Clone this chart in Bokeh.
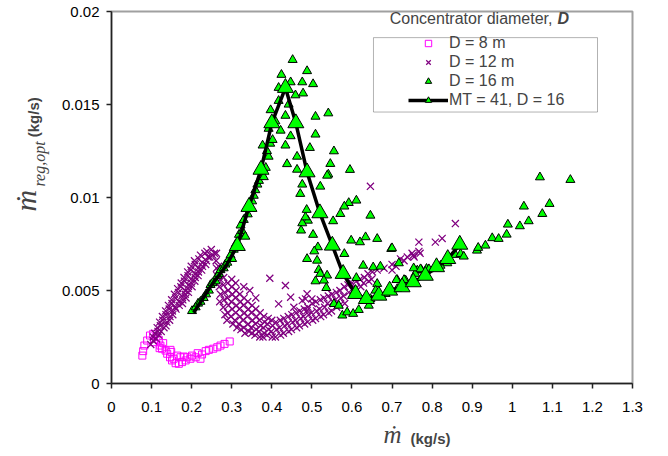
from math import pi
from bokeh.plotting import figure
from bokeh.models import Range1d, Label, BoxAnnotation, Legend, LegendItem, FixedTicker
from bokeh.embed import file_html
from bokeh.resources import INLINE

# ---------------- data ----------------
x_ticks = [0, 0.1, 0.2, 0.3, 0.4, 0.5, 0.6, 0.7, 0.8, 0.9, 1, 1.1, 1.2, 1.3]
x_tick_labels = ["0", "0.1", "0.2", "0.3", "0.4", "0.5", "0.6", "0.7", "0.8", "0.9", "1", "1.1", "1.2", "1.3"]
y_ticks = [0, 0.005, 0.01, 0.015, 0.02]
y_tick_labels = ["0", "0.005", "0.01", "0.015", "0.02"]

# D = 8 m
d8_x = [0.077, 0.079, 0.082, 0.089, 0.096, 0.104, 0.112, 0.106, 0.118, 0.122, 0.126, 0.129, 0.12,
        0.135, 0.139, 0.146, 0.147, 0.149, 0.151, 0.155, 0.16, 0.164, 0.168, 0.172, 0.176, 0.18,
        0.185, 0.189, 0.197, 0.201, 0.21, 0.215, 0.222, 0.226, 0.235, 0.243, 0.254, 0.264, 0.272,
        0.282, 0.295]
d8_y = [0.0015, 0.00174, 0.00204, 0.00231, 0.00258, 0.00267, 0.00253, 0.00222, 0.00235, 0.00204,
        0.00187, 0.00217, 0.0019, 0.00177, 0.0016, 0.00141, 0.00181, 0.0017, 0.00124, 0.00133,
        0.00109, 0.0015, 0.00106, 0.00141, 0.00115, 0.00145, 0.00124, 0.00141, 0.00133, 0.0015,
        0.00141, 0.00163, 0.00133, 0.00156, 0.00174, 0.00181, 0.00187, 0.00195, 0.00204, 0.00213,
        0.00226]

# D = 12 m : rising branch, falling branch, lower branch
d12_x = [0.098, 0.104, 0.104, 0.112, 0.118, 0.108, 0.116, 0.124, 0.114, 0.122, 0.131, 0.136,
         0.120, 0.128, 0.138, 0.145, 0.127, 0.136, 0.146, 0.153, 0.135, 0.144, 0.152, 0.161,
         0.142, 0.151, 0.159, 0.169, 0.177, 0.150, 0.160, 0.168, 0.178, 0.186, 0.157, 0.167,
         0.175, 0.184, 0.192, 0.165, 0.173, 0.184, 0.191, 0.201, 0.174, 0.182, 0.192, 0.199,
         0.208, 0.181, 0.191, 0.198, 0.209, 0.216, 0.190, 0.198, 0.209, 0.217, 0.225, 0.199,
         0.209, 0.216, 0.227, 0.235, 0.267, 0.207, 0.218, 0.226, 0.237, 0.245, 0.261, 0.222,
         0.233, 0.241, 0.253, 0.262, 0.238, 0.249, 0.257,
         0.262, 0.263, 0.261, 0.270, 0.271, 0.269, 0.272, 0.270, 0.280, 0.279, 0.282, 0.281,
         0.279, 0.283, 0.290, 0.291, 0.289, 0.292, 0.290, 0.288, 0.300, 0.302, 0.299, 0.301,
         0.298, 0.303, 0.311, 0.309, 0.312, 0.310, 0.308, 0.313, 0.320, 0.322, 0.319, 0.321,
         0.318, 0.323, 0.331, 0.329, 0.332, 0.328, 0.330, 0.333, 0.340, 0.342, 0.339, 0.341,
         0.343, 0.351, 0.349, 0.352, 0.348, 0.350, 0.360, 0.362, 0.359, 0.361, 0.358, 0.371,
         0.369, 0.372, 0.368, 0.370, 0.380, 0.382, 0.379, 0.381, 0.378, 0.391, 0.389, 0.392,
         0.388, 0.400, 0.402, 0.399, 0.401,
         0.395, 0.434, 0.417, 0.447, 0.488, 0.484, 0.455, 0.488, 0.500, 0.476, 0.360, 0.345,
         0.330, 0.310, 0.300,
         0.410, 0.412, 0.409, 0.421, 0.419, 0.422, 0.430, 0.432, 0.429, 0.441, 0.439, 0.442,
         0.450, 0.452, 0.449, 0.461, 0.459, 0.462, 0.470, 0.472, 0.469, 0.481, 0.479, 0.482,
         0.490, 0.492, 0.489, 0.501, 0.499, 0.502, 0.510, 0.512, 0.509, 0.521, 0.519, 0.522,
         0.530, 0.532, 0.529, 0.541, 0.539, 0.542, 0.550, 0.552, 0.549, 0.561, 0.559, 0.562,
         0.570, 0.572, 0.569, 0.581, 0.579, 0.582, 0.590, 0.592, 0.600, 0.602, 0.611, 0.609,
         0.620, 0.622, 0.631, 0.629, 0.640, 0.642, 0.651, 0.649,
         0.663, 0.680, 0.700, 0.700, 0.710, 0.721, 0.730, 0.738, 0.753, 0.755, 0.750, 0.767,
         0.770, 0.767, 0.808, 0.825, 0.858, 0.646]
d12_y = [0.0021, 0.0023, 0.0025, 0.0024, 0.0026, 0.0027, 0.0028, 0.0028, 0.0030, 0.0031, 0.0030,
         0.0031, 0.0033, 0.0034, 0.0033, 0.0034, 0.0036, 0.0037, 0.0036, 0.0037, 0.0039, 0.0040,
         0.0039, 0.0040, 0.0042, 0.0043, 0.0041, 0.0042, 0.0043, 0.0045, 0.0046, 0.0044, 0.0045,
         0.0046, 0.0048, 0.0049, 0.0047, 0.0048, 0.0049, 0.0051, 0.0052, 0.0050, 0.0051, 0.0052,
         0.0054, 0.0055, 0.0053, 0.0054, 0.0055, 0.0057, 0.0058, 0.0056, 0.0057, 0.0058, 0.0060,
         0.0061, 0.0059, 0.0060, 0.0061, 0.0063, 0.0064, 0.0062, 0.0063, 0.0064, 0.0063, 0.0066,
         0.0067, 0.0065, 0.0066, 0.0068, 0.0066, 0.0069, 0.0070, 0.0068, 0.0069, 0.0070, 0.0071,
         0.0072, 0.0070,
         0.0062, 0.0058, 0.0054, 0.0060, 0.0056, 0.0052, 0.0048, 0.0044, 0.0057, 0.0053, 0.0049,
         0.0045, 0.0041, 0.0037, 0.0054, 0.0050, 0.0046, 0.0042, 0.0038, 0.0034, 0.0052, 0.0048,
         0.0044, 0.0040, 0.0036, 0.0032, 0.0050, 0.0046, 0.0042, 0.0038, 0.0034, 0.0030, 0.0048,
         0.0044, 0.0040, 0.0036, 0.0032, 0.0029, 0.0046, 0.0042, 0.0038, 0.0034, 0.0030, 0.0027,
         0.0044, 0.0040, 0.0036, 0.0032, 0.0028, 0.0042, 0.0038, 0.0034, 0.0030, 0.0027, 0.0040,
         0.0036, 0.0032, 0.0029, 0.0026, 0.0038, 0.0034, 0.0031, 0.0028, 0.0025, 0.0036, 0.0033,
         0.0030, 0.0027, 0.0025, 0.0035, 0.0032, 0.0029, 0.0026, 0.0034, 0.0031, 0.0028, 0.0025,
         0.00566, 0.00527, 0.00428, 0.00464, 0.00482, 0.00455, 0.0041, 0.00392, 0.00455, 0.00446,
         0.0046, 0.0050, 0.0052, 0.0054, 0.0056,
         0.0033, 0.0029, 0.0025, 0.0034, 0.0030, 0.0026, 0.0035, 0.0031, 0.0027, 0.0036, 0.0032,
         0.0028, 0.0037, 0.0033, 0.0029, 0.0038, 0.0034, 0.0030, 0.0039, 0.0035, 0.0031, 0.0040,
         0.0036, 0.0032, 0.0041, 0.0037, 0.0033, 0.0043, 0.0038, 0.0034, 0.0044, 0.0039, 0.0035,
         0.0045, 0.0040, 0.0036, 0.0046, 0.0041, 0.0037, 0.0047, 0.0043, 0.0038, 0.0048, 0.0044,
         0.0039, 0.0049, 0.0045, 0.0041, 0.0050, 0.0046, 0.0042, 0.0052, 0.0047, 0.0043, 0.0053,
         0.0049, 0.0054, 0.0050, 0.0055, 0.0051, 0.0056, 0.0052, 0.0057, 0.0054, 0.0059, 0.0055,
         0.0060, 0.0056,
         0.0061, 0.0062, 0.0064, 0.0061, 0.0063, 0.0067, 0.0066, 0.0068, 0.0069, 0.0068, 0.0070,
         0.0071, 0.0070, 0.0076, 0.0076, 0.0078, 0.0086, 0.0106]

# D = 16 m
d16_x = [0.201, 0.21, 0.216, 0.222, 0.23, 0.236, 0.243, 0.247, 0.252, 0.26, 0.264, 0.268, 0.272,
         0.28, 0.284, 0.289, 0.293, 0.297, 0.301, 0.305, 0.31, 0.318, 0.322, 0.326, 0.33, 0.334,
         0.34, 0.346, 0.351, 0.355, 0.359, 0.364, 0.368, 0.375, 0.38, 0.385, 0.392, 0.388, 0.377,
         0.396,
         0.402, 0.392, 0.422, 0.447, 0.409, 0.434, 0.397, 0.442, 0.417, 0.459, 0.417, 0.447, 0.424,
         0.452, 0.488, 0.476, 0.503, 0.478, 0.434, 0.463, 0.438, 0.463, 0.476, 0.471,
         0.509, 0.541, 0.509, 0.495, 0.555, 0.546, 0.595, 0.541, 0.538, 0.521, 0.611, 0.592, 0.581,
         0.571, 0.646, 0.553, 0.487, 0.49, 0.476, 0.484, 0.473, 0.503, 0.598, 0.62, 0.634, 0.663,
         0.698, 0.515, 0.506, 0.581, 0.488, 0.513, 0.517, 0.628, 0.653, 0.671, 0.538, 0.521, 0.509,
         0.53, 0.611, 0.713, 0.763, 0.773, 0.786, 0.758, 0.536, 0.663, 0.659, 0.713, 0.734, 0.555,
         0.567, 0.576, 0.588, 0.603, 0.617, 0.646, 0.642, 0.684,
         0.70, 0.717, 0.754, 0.771, 0.792, 0.711, 0.73, 0.70, 0.821, 0.838, 0.858, 0.871, 0.879,
         0.912, 0.915, 0.933, 0.95, 0.966, 0.986, 0.989, 1.019, 1.041, 1.029, 1.075, 1.093, 1.069,
         1.145]
d16_y = [0.0039, 0.0041, 0.0043, 0.0044, 0.0046, 0.0048, 0.005, 0.0053, 0.0054, 0.0055, 0.0058,
         0.0059, 0.0061, 0.0062, 0.0064, 0.0065, 0.0067, 0.0069, 0.0067, 0.0072, 0.0075, 0.008,
         0.0085, 0.0082, 0.0088, 0.0079, 0.0091, 0.0094, 0.0098, 0.0101, 0.0104, 0.0107, 0.0109,
         0.0112, 0.0111, 0.0116, 0.0122, 0.0125, 0.0128, 0.0129,
         0.0131, 0.0137, 0.0136, 0.0133, 0.0141, 0.0144, 0.0147, 0.015, 0.0152, 0.0155, 0.0159,
         0.0162, 0.0166, 0.0174, 0.0168, 0.0162, 0.0161, 0.0156, 0.0128, 0.0122, 0.0118, 0.0115,
         0.0107, 0.0102,
         0.01435, 0.01453, 0.01339, 0.01267, 0.01249, 0.01181, 0.01149, 0.01124, 0.01118, 0.01059,
         0.00984, 0.00971, 0.00952, 0.00912, 0.00903, 0.00873, 0.00934, 0.00876, 0.00862, 0.00894,
         0.00823, 0.008, 0.00769, 0.0076, 0.00787, 0.00778, 0.00724, 0.00733, 0.00711, 0.00697,
         0.0067, 0.00661, 0.00611, 0.00634, 0.00625, 0.00629, 0.00581, 0.0059, 0.0055, 0.00554,
         0.00568, 0.00557, 0.00608, 0.00611, 0.00617, 0.0059, 0.00514, 0.00536, 0.005, 0.00509,
         0.00554, 0.00428, 0.00419, 0.00366, 0.00383, 0.00375, 0.00396, 0.00455, 0.00419, 0.00482,
         0.00728, 0.00647, 0.0062, 0.00615, 0.00615, 0.00557, 0.00557, 0.00494, 0.00634, 0.00647,
         0.00692, 0.00697, 0.00683, 0.00715, 0.0073, 0.00742, 0.00782, 0.00778, 0.00801, 0.00855,
         0.00846, 0.00873, 0.00952, 0.00912, 0.00966, 0.01109, 0.01095]

# MT = 41, D = 16 (curve and its markers)
mt_curve_x = [0.205, 0.25, 0.285, 0.314, 0.343, 0.373, 0.40, 0.434, 0.46, 0.488, 0.52, 0.551, 0.578,
              0.609, 0.636, 0.667, 0.694, 0.725, 0.753, 0.783, 0.811, 0.839, 0.869]
mt_curve_y = [0.0038, 0.0053, 0.0063, 0.0074, 0.0095, 0.0115, 0.0140, 0.0159, 0.0140, 0.01136,
              0.00916, 0.00742, 0.0059, 0.00482, 0.00455, 0.00473, 0.005, 0.00518, 0.00545, 0.0058,
              0.00626, 0.0067, 0.00747]
mt_pts_x = mt_curve_x[3:]
mt_pts_y = mt_curve_y[3:]

# ---------------- figure ----------------
p = figure(width=668, height=456, output_backend="svg", toolbar_location=None,
           x_range=Range1d(0, 1.3), y_range=Range1d(0, 0.02),
           min_border_left=111, min_border_right=36, min_border_top=11, min_border_bottom=73)
p.background_fill_color = "white"
p.border_fill_color = "white"
p.outline_line_color = "#a0a0a0"
p.outline_line_width = 2
p.grid.visible = False

for ax, ticks, labels in ((p.xaxis, x_ticks, x_tick_labels), (p.yaxis, y_ticks, y_tick_labels)):
    ax.ticker = FixedTicker(ticks=ticks)
    ax.major_label_overrides = {t: l for t, l in zip(ticks, labels)}
    ax.axis_line_color = "#222222"
    ax.axis_line_width = 1.5
    ax.major_tick_line_color = "#222222"
    ax.major_tick_line_width = 1.5
    ax.major_tick_out = 5
    ax.major_tick_in = 0
    ax.minor_tick_line_color = None
    ax.major_label_text_font = "Liberation Sans"
    ax.major_label_text_font_size = "15px"
    ax.major_label_text_color = "black"
p.xaxis.major_label_standoff = 13
p.yaxis.major_label_standoff = 7

r8 = p.scatter(d8_x, d8_y, marker="square", size=7, fill_color=None,
               line_color="#ff00ff", line_width=1)
r12 = p.scatter(d12_x, d12_y, marker="x", size=10, line_color="#800080", line_width=1.25)
r16 = p.scatter(d16_x, d16_y, marker="triangle", size=9, fill_color="#00ff00",
                line_color="black", line_width=1)
rline = p.line(mt_curve_x, mt_curve_y, line_color="black", line_width=3.5)
rbig = p.scatter(mt_pts_x, mt_pts_y, marker="triangle", size=16, fill_color="#00ff00",
                 line_color="black", line_width=1)

legend = Legend(items=[
    LegendItem(label="D = 8 m", renderers=[r8]),
    LegendItem(label="D = 12 m", renderers=[r12]),
    LegendItem(label="D = 16 m", renderers=[r16]),
    LegendItem(label="MT = 41, D = 16", renderers=[rline, rbig]),
], location=(297, 274), padding=0, margin=0, spacing=1, label_height=16, glyph_height=16,
    glyph_width=40, label_standoff=1, border_line_alpha=0, background_fill_alpha=0,
    label_text_font="Liberation Sans", label_text_font_size="16px")
p.add_layout(legend, "center")

p.add_layout(BoxAnnotation(left=0.6537, right=1.2127, bottom=0.014595, top=0.018595,
                           fill_alpha=0, line_color="black", line_width=1))

p.add_layout(Label(x=1.1004, y=0.01919, text="Concentrator diameter,", text_align="right",
                   text_font="Liberation Sans", text_font_size="16px"))
p.add_layout(Label(x=1.1129, y=0.01919, text="D", text_align="left",
                   text_font="Liberation Sans", text_font_size="16px",
                   text_font_style="bold italic"))

# axis titles (placed in side panels so that they are not clipped to the frame;
# positions are in data units, so the panel they sit in only reserves space)
p.add_layout(Label(x=-0.1722, y=0.00925, text="ṁ", angle=pi / 2,
                   text_font="Liberation Serif", text_font_style="italic",
                   text_font_size="30px"), "left")
p.add_layout(Label(x=-0.1572, y=0.01059, text="reg,opt", angle=pi / 2,
                   text_font="Liberation Serif", text_font_style="italic",
                   text_font_size="16px"), "left")
p.add_layout(Label(x=-0.1722, y=0.01324, text="(kg/s)", angle=pi / 2,
                   text_font="Liberation Sans", text_font_style="bold",
                   text_font_size="15px"), "right")
p.add_layout(Label(x=0.6787, y=-0.00346, text="ṁ",
                   text_font="Liberation Serif", text_font_style="italic",
                   text_font_size="25px"), "right")
p.add_layout(Label(x=0.746, y=-0.0034, text="(kg/s)",
                   text_font="Liberation Sans", text_font_style="bold",
                   text_font_size="15px"), "below")

open("out.html", "w").write(file_html(p, INLINE))
